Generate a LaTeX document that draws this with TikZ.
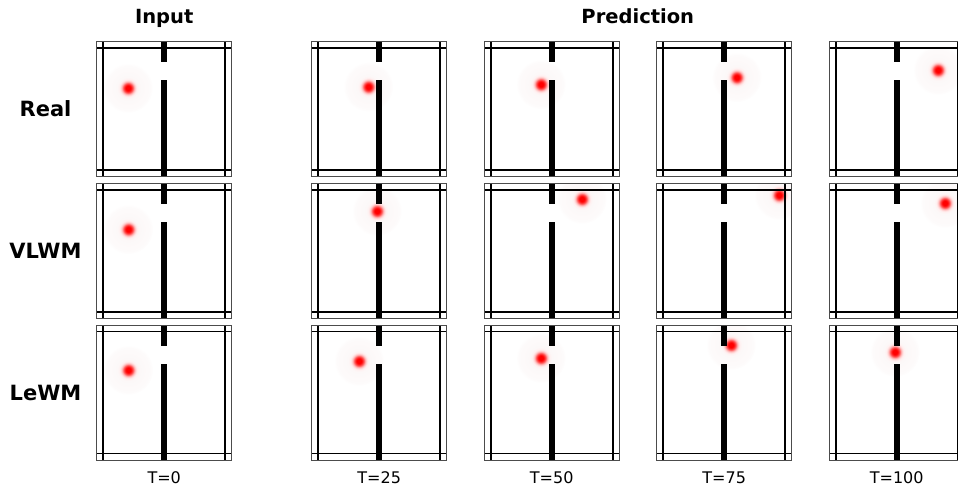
\documentclass[tikz,border=0pt]{standalone}
\usepackage{fontspec}
\setmainfont{DejaVu Sans}
\usetikzlibrary{positioning}
\definecolor{halo}{RGB}{252,248,248}
\pgfdeclareradialshading{ballglow}{\pgfpoint{0bp}{0bp}}{%
	color(0bp)=(red); color(2.5bp)=(red); color(4.5bp)=(red!70!white);
	color(6.5bp)=(red!25!white); color(8.5bp)=(red!6!white);
	color(11bp)=(halo); color(22bp)=(halo!60!white); color(25bp)=(white);
	color(50bp)=(white)}
\tikzset{
	title/.style={font=\bfseries\fontsize{19.5}{22}\selectfont, anchor=base},
	rowname/.style={font=\bfseries\fontsize{21}{24}\selectfont, anchor=base},
	tick/.style={font=\fontsize{16}{19}\selectfont, anchor=base,
		text depth=0pt, inner sep=0.5pt},
	frame/.style={draw=black!70, line width=1pt},
	rim/.style={draw=black, line width=1.8pt},
	wall/.style={fill=black},
	ball/.style={shading=ballglow},
	pics/panel/.style args={#1/#2}{code={
		\begin{scope}
			\clip (0,0) rectangle (135,135);
			\shade[ball] (#1,#2) circle (25);
		\end{scope}
		\fill[wall] (64.3,0) rectangle (70.7,20.5);
		\fill[wall] (64.3,38.5) rectangle (70.7,135);
		\draw[rim] (6.5,0) -- (6.5,135) (128.5,0) -- (128.5,135)
			(0,6.5) -- (135,6.5) (0,128.5) -- (135,128.5);
		\draw[frame] (0,0) rectangle (135,135);
	}},
}

\begin{document}
\begin{tikzpicture}[x=1pt, y=-1pt]
	\useasboundingbox (0,0) rectangle (958,485);
	% column titles
	\node[title] (input) at (164.2,23.5) {Input};
	\node[title] (pred)  at (637.8,23.5) {Prediction};
	% row names
	\node[rowname] (real) at (45.5,116.7) {Real};
	\node[rowname] (vlwm) at (45.5,258.4) {VLWM};
	\node[rowname] (lewm) at (45.5,400) {LeWM};
	% real
	\pic at (96.7,41.7)  {panel={31.3/46.3}};
	\pic at (311.7,41.7) {panel={56.6/45}};
	\pic at (484.2,41.7) {panel={56.7/42.6}};
	\pic at (656.7,41.7) {panel={80/35.6}};
	\pic at (829.2,41.7) {panel={108.7/28.3}};
	% vlwm
	\pic at (96.7,183.3)  {panel={31.6/46}};
	\pic at (311.7,183.3) {panel={65.3/27.7}};
	\pic at (484.2,183.3) {panel={97.7/15.7}};
	\pic at (656.7,183.3) {panel={122.3/11.7}};
	\pic at (829.2,183.3) {panel={115.7/19.7}};
	% lewm
	\pic at (96.7,325)  {panel={31.6/45}};
	\pic at (311.7,325) {panel={47.3/36}};
	\pic at (484.2,325) {panel={56.7/33}};
	\pic at (656.7,325) {panel={74.3/20}};
	\pic at (829.2,325) {panel={65.7/27}};
	% time steps
	\node[tick] (t0)   at (164.2,483) {T=0};
	\node[tick] (t25)  at (379.2,483) {T=25};
	\node[tick] (t50)  at (551.7,483) {T=50};
	\node[tick] (t75)  at (724.2,483) {T=75};
	\node[tick] (t100) at (896.7,483) {T=100};
\end{tikzpicture}
\end{document}
